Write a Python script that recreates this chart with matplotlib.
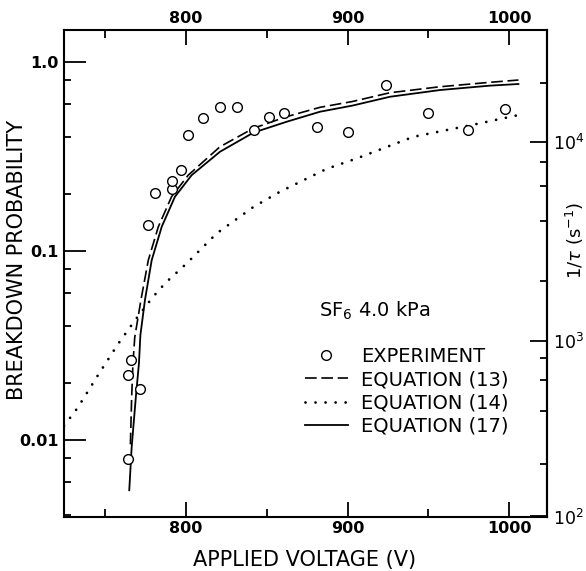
import matplotlib
matplotlib.use('Agg')
import matplotlib.pyplot as plt
import numpy as np
from matplotlib.lines import Line2D
from matplotlib.ticker import FixedLocator, FixedFormatter, LogLocator, NullFormatter

# measured breakdown probability, SF6 at 4.0 kPa
exp_v = [764.3, 764.3, 766.1, 771.7, 776.3, 781.0, 791.1, 791.1, 796.9, 801.2,
         810.5, 820.9, 831.4, 841.9, 851.3, 860.6, 881.3, 900.4, 924.0, 950.0,
         974.4, 997.7]
exp_p = [0.0079, 0.0222, 0.0264, 0.0187, 0.138, 0.204, 0.214, 0.236, 0.269, 0.411,
         0.507, 0.576, 0.576, 0.437, 0.515, 0.535, 0.455, 0.429, 0.753, 0.537,
         0.438, 0.562]

# equation (13), dashed
eq13_v = [765.6, 766.4, 767.2, 768.3, 772.1, 776.7, 782.9, 791.1, 801.4, 821.0,
          841.7, 862.3, 883.0, 903.0, 926.3, 957.3, 988.2, 1005.8]
eq13_p = [0.0095, 0.017, 0.0255, 0.035, 0.055, 0.0896, 0.1345, 0.194, 0.252, 0.356,
          0.446, 0.514, 0.576, 0.618, 0.688, 0.740, 0.781, 0.803]

# equation (14), dotted
eq14_v = [724.5, 732.9, 745.3, 757.7, 768.4, 779.4, 787.4, 800.4, 819.0, 841.7,
          858.2, 887.0, 905.7, 940.7, 982.0, 1005.8]
eq14_p = [0.0119, 0.0148, 0.0219, 0.032, 0.043, 0.057, 0.068, 0.086, 0.124, 0.171,
          0.206, 0.272, 0.309, 0.402, 0.474, 0.524]

# equation (17), solid
eq17_v = [764.9, 766.4, 769.0, 770.9, 771.8, 774.6, 778.8, 785.0, 793.2, 803.5,
          821.0, 841.7, 862.3, 883.0, 903.0, 926.3, 957.3, 988.2, 1005.8]
eq17_p = [0.00543, 0.0092, 0.0170, 0.0255, 0.036, 0.055, 0.0896, 0.1345, 0.194, 0.252,
          0.335, 0.423, 0.483, 0.546, 0.588, 0.655, 0.711, 0.750, 0.765]

# right axis: log10(P) where 1/tau reads 1e2, 1e3, 1e4
RATE_LOG = [2.0, 3.0, 4.0]
RATE_LOGP = [-2.404, -1.476, -0.425]

P_TICKS = [0.01, 0.1, 1.0]
P_LABELS = ['0.01', '0.1', '1.0']
V_TICKS = [800, 900, 1000]
V_MINOR = [750, 850, 950]
RATE_TICKS = [1e2, 1e3, 1e4]
RATE_LABELS = ['$10^2$', '$10^3$', '$10^4$']


def piecewise(x, xs, ys):
    x = np.asarray(x, dtype=float)
    y = np.interp(x, xs, ys)
    lo_slope = (ys[1] - ys[0]) / (xs[1] - xs[0])
    hi_slope = (ys[-1] - ys[-2]) / (xs[-1] - xs[-2])
    y = np.where(x < xs[0], ys[0] + (x - xs[0]) * lo_slope, y)
    y = np.where(x > xs[-1], ys[-1] + (x - xs[-1]) * hi_slope, y)
    return y


def p_to_rate(p):
    lp = np.log10(np.clip(p, 1e-30, None))
    return 10 ** piecewise(lp, RATE_LOGP, RATE_LOG)


def rate_to_p(r):
    lr = np.log10(np.clip(r, 1e-30, None))
    return 10 ** piecewise(lr, RATE_LOG, RATE_LOGP)


def main():
    plt.rcParams['font.family'] = 'DejaVu Sans'
    fig = plt.figure(figsize=(5.86, 5.71), dpi=100)
    ax = fig.add_axes([64 / 586, 54 / 571, 483 / 586, 487 / 571])

    l13, = ax.plot(eq13_v, eq13_p, color='black', lw=1.2, linestyle=(0, (7, 2.8)))
    l14, = ax.plot(eq14_v, eq14_p, color='black', lw=2.0, linestyle=(0, (0.01, 3.6)),
                   dash_capstyle='round')
    l17, = ax.plot(eq17_v, eq17_p, color='black', lw=1.3)
    ax.plot(exp_v, exp_p, linestyle='none', marker='o', ms=7, mfc='white',
            mec='black', mew=1.0, zorder=3)

    ax.set_yscale('log')
    ax.set_xlim(724.5, 1023.5)
    ax.set_ylim(0.00392, 1.477)

    ax.xaxis.set_major_locator(FixedLocator(V_TICKS))
    ax.xaxis.set_minor_locator(FixedLocator(V_MINOR))
    ax.yaxis.set_major_locator(FixedLocator(P_TICKS))
    ax.yaxis.set_major_formatter(FixedFormatter(P_LABELS))
    ax.yaxis.set_minor_locator(LogLocator(base=10, subs=(2, 4, 6, 8)))
    ax.yaxis.set_minor_formatter(NullFormatter())

    ax.tick_params(axis='x', which='both', direction='in', top=True, labeltop=True,
                   labelsize=11.5, width=1.3, pad=3)
    ax.tick_params(axis='x', which='major', length=11)
    ax.tick_params(axis='x', which='minor', length=6)
    ax.tick_params(axis='y', which='both', direction='in', right=False,
                   labelsize=11.5, width=1.3, pad=4)
    ax.tick_params(axis='y', which='major', length=16)
    ax.tick_params(axis='y', which='minor', length=5)
    for lab in ax.get_xticklabels() + ax.get_yticklabels():
        lab.set_fontweight('bold')
    for sp in ax.spines.values():
        sp.set_linewidth(1.5)

    sec = ax.secondary_yaxis('right', functions=(p_to_rate, rate_to_p))
    sec.yaxis.set_major_locator(FixedLocator(RATE_TICKS))
    sec.yaxis.set_major_formatter(FixedFormatter(RATE_LABELS))
    sec.yaxis.set_minor_locator(LogLocator(base=10, subs=(2, 4, 6, 8)))
    sec.yaxis.set_minor_formatter(NullFormatter())
    sec.tick_params(axis='y', which='both', direction='in', labelsize=12.5, width=1.3, pad=4)
    sec.tick_params(axis='y', which='major', length=12)
    sec.tick_params(axis='y', which='minor', length=5)
    sec.spines['right'].set_linewidth(1.5)

    fig.text(17.5 / 586, 1 - 260 / 571, 'BREAKDOWN PROBABILITY', rotation=90,
             ha='center', va='center', fontsize=15)
    fig.text(305 / 586, 1 - 560 / 571, 'APPLIED VOLTAGE (V)', ha='center',
             va='center', fontsize=15)
    fig.text(575 / 586, 1 - 240 / 571, r'1/$\tau$ (s$^{-1}$)', rotation=90,
             ha='center', va='center', fontsize=13)

    ax.text((319 - 64) / 483, (517 - 317) / 487, 'SF$_6$ 4.0 kPa', transform=ax.transAxes,
            ha='left', va='baseline', fontsize=14)

    handles = [Line2D([], [], linestyle='none', marker='o', ms=7, mfc='white',
                      mec='black', mew=1.0), l13, l14, l17]
    labels = ['EXPERIMENT', 'EQUATION (13)', 'EQUATION (14)', 'EQUATION (17)']
    ax.legend(handles, labels, loc='upper left',
              bbox_to_anchor=((305 - 64) / 483, (517 - 347) / 487),
              frameon=False, fontsize=14, handlelength=2.2, handletextpad=0.7,
              labelspacing=0.22, borderaxespad=0, borderpad=0)

    fig.savefig('out.png', dpi=100)


if __name__ == '__main__':
    main()
